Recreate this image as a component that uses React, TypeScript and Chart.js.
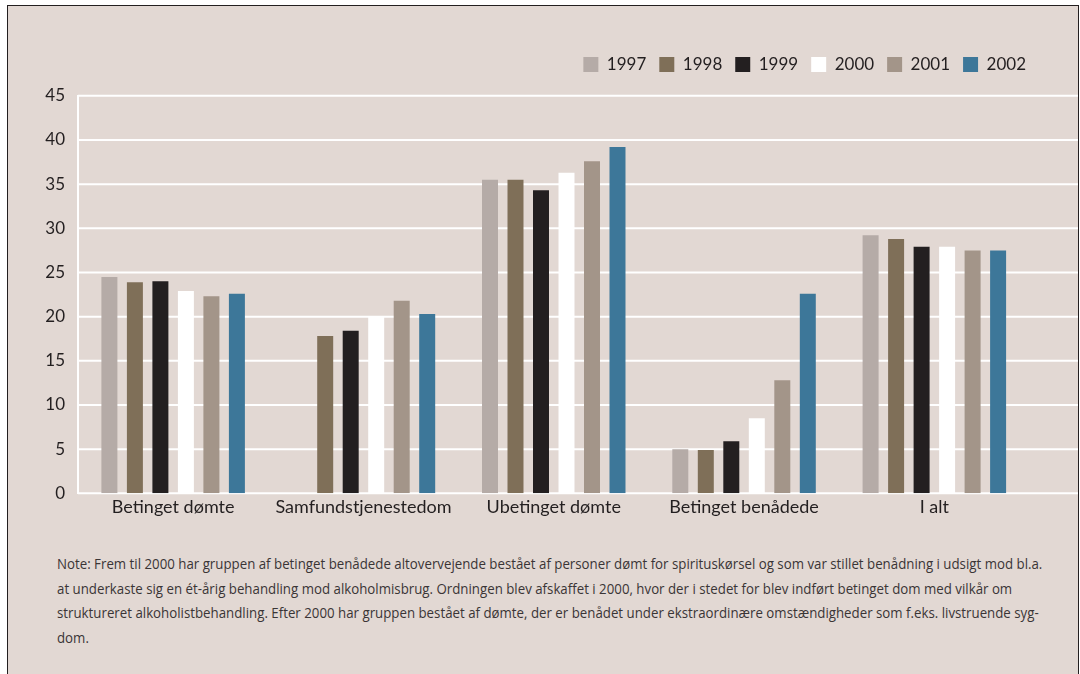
import React, { useEffect, useRef } from "react";
import { Chart, registerables } from "chart.js";

Chart.register(...registerables);

const categories = ["Betinget dømte", "Samfundstjenestedom", "Ubetinget dømte", "Betinget benådede", "I alt"];
const years = ["1997", "1998", "1999", "2000", "2001", "2002"];
const v1997 = [24.5, null, 35.5, 5.0, 29.2];
const v1998 = [23.9, 17.8, 35.5, 4.9, 28.8];
const v1999 = [24.0, 18.4, 34.3, 5.9, 27.9];
const v2000 = [22.9, 20.0, 36.3, 8.5, 27.9];
const v2001 = [22.3, 21.8, 37.6, 12.8, 27.5];
const v2002 = [22.6, 20.3, 39.2, 22.6, 27.5];
const seriesValues = [v1997, v1998, v1999, v2000, v2001, v2002];
const seriesColors = ["#b5aba7", "#7f6f58", "#231f20", "#ffffff", "#a39589", "#3d7799"];
const yTicks = [0, 5, 10, 15, 20, 25, 30, 35, 40, 45];

const noteLines = [
  "Note: Frem til 2000 har gruppen af betinget benådede altovervejende bestået af personer dømt for spirituskørsel og som var stillet benådning i udsigt mod bl.a.",
  "at underkaste sig en ét-årig behandling mod alkoholmisbrug. Ordningen blev afskaffet i 2000, hvor der i stedet for blev indført betinget dom med vilkår om",
  "struktureret alkoholistbehandling. Efter 2000 har gruppen bestået af dømte, der er benådet under ekstraordinære omstændigheder som f.eks. livstruende syg-",
  "dom.",
];

const BG = "#e2d8d3";
const TEXT = "#231f20";
const FONT = "Lato, 'Open Sans', sans-serif";

const gridPlugin = {
  id: "extGrid",
  beforeDatasetsDraw(chart: any) {
    const { ctx, chartArea, scales } = chart;
    const y = scales.y;
    ctx.save();
    ctx.strokeStyle = "#ffffff";
    ctx.lineWidth = 2;
    y.ticks.forEach((t: any) => {
      const py = y.getPixelForValue(t.value);
      ctx.beginPath();
      ctx.moveTo(chartArea.left, py);
      ctx.lineTo(chart.width - 2, py);
      ctx.stroke();
    });
    ctx.restore();
  },
};

export default function App() {
  const ref = useRef<HTMLCanvasElement>(null);
  useEffect(() => {
    if (!ref.current) return;
    const chart = new Chart(ref.current, {
      type: "bar",
      data: {
        labels: categories,
        datasets: years.map((yr, i) => ({
          label: yr,
          data: seriesValues[i] as any,
          backgroundColor: seriesColors[i],
          borderWidth: 0,
          barPercentage: 0.627,
          categoryPercentage: 0.804,
          yAxisID: "y",
        })),
      },
      options: {
        animation: false,
        responsive: false,
        maintainAspectRatio: false,
        layout: { padding: { top: 43, right: 41, left: 0, bottom: 0 } },
        plugins: {
          legend: {
            display: true,
            position: "top",
            align: "end",
            labels: {
              boxWidth: 15,
              boxHeight: 15,
              padding: 13,
              color: TEXT,
              font: { family: FONT, size: 17 },
            },
          },
          title: {
            display: true,
            text: "",
            weight: 500,
            font: { size: 1, lineHeight: 1 },
            padding: { top: 0, bottom: 11.8 },
          } as any,
          tooltip: { enabled: false },
        },
        scales: {
          x: {
            grid: { display: false, drawTicks: false },
            border: { display: false },
            ticks: { color: TEXT, font: { family: FONT, size: 18 }, padding: 3 },
            afterFit: (s: any) => { s.height = 36.7; },
          },
          y: {
            min: 0,
            max: 45,
            afterBuildTicks: (s: any) => { s.ticks = yTicks.map((v) => ({ value: v })); },
            grid: { display: false, drawTicks: false },
            border: { display: true, color: "#ffffff", width: 2 },
            ticks: { color: TEXT, font: { family: FONT, size: 17 }, padding: 13 },
            afterFit: (s: any) => { s.width = 78; },
          },
          yR: {
            position: "right",
            display: true,
            grid: { display: false, drawTicks: false },
            border: { display: false },
            ticks: { display: false },
            afterFit: (s: any) => { s.width = 9.5; },
          },
        },
      },
      plugins: [gridPlugin],
    });
    return () => chart.destroy();
  }, []);

  return (
    <div style={{ position: "absolute", left: 0, top: 0, width: 1080, height: 674, background: "#ffffff", overflow: "hidden" }}>
      <div
        style={{
          position: "absolute",
          left: 7,
          top: 5,
          width: 1070,
          height: 700,
          background: BG,
          borderTop: "1.5px solid #231f20",
          borderLeft: "1.5px solid #231f20",
          borderRight: "1.5px solid #231f20",
        }}
      />
      <canvas ref={ref} width={1080} height={530} style={{ position: "absolute", left: 0, top: 0, width: 1080, height: 530 }} />
      <div
        style={{
          position: "absolute",
          left: 57,
          top: 551,
          fontFamily: "'Open Sans', sans-serif",
          fontSize: 15,
          lineHeight: "24.5px",
          color: "#3a3536",
          whiteSpace: "nowrap",
          transform: "scaleX(0.885)",
          transformOrigin: "0 0",
        }}
      >
        {noteLines.map((l, i) => (
          <div key={i}>{l}</div>
        ))}
      </div>
    </div>
  );
}
